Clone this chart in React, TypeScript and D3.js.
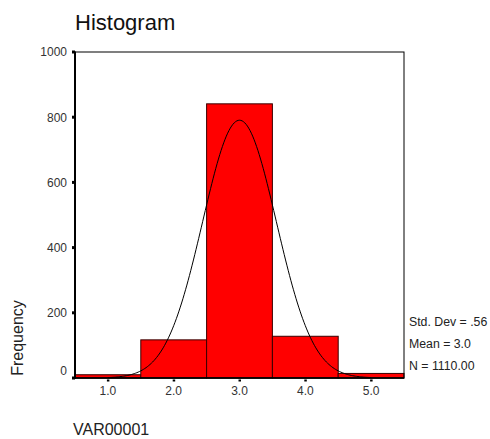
import React from "react";
import * as d3 from "d3";

const binCenters = [1, 2, 3, 4, 5];
const frequencies = [10, 117, 841, 128, 14];
const yTicks = [0, 200, 400, 600, 800, 1000];
const xTickLabels = ["1.0", "2.0", "3.0", "4.0", "5.0"];
const stats = { sd: 0.56, mean: 3.0, n: 1110 };
const statLabels = ["Std. Dev = .56", "Mean = 3.0", "N = 1110.00"];

const W = 490, H = 439;
const left = 75, right = 404, top = 52, bottom = 378;
const font = "'Liberation Sans', Arial, sans-serif";

export default function App() {
  const x = d3.scaleLinear().domain([0.5, 5.5]).range([left, right]);
  const y = d3.scaleLinear().domain([0, 1000]).range([bottom, top]);

  const pdf = (v: number) =>
    (stats.n * 1) / (stats.sd * Math.sqrt(2 * Math.PI)) *
    Math.exp(-0.5 * ((v - stats.mean) / stats.sd) ** 2);
  const curvePts = d3.range(1.0, 5.0001, 0.02).map((v) => [v, pdf(v)] as [number, number]);
  const line = d3.line<[number, number]>().x((d) => x(d[0])).y((d) => y(d[1])).curve(d3.curveMonotoneX);

  return (
    <svg width={W} height={H} style={{ position: "absolute", left: 0, top: 0 }} fontFamily={font}>
      <rect x={0} y={0} width={W} height={H} fill="#fff" />
      <text x={75} y={29.5} fontSize={22} fill="#111">Histogram</text>

      {binCenters.map((c, i) => (
        <rect key={i} x={x(c - 0.5)} y={y(frequencies[i])} width={x(c + 0.5) - x(c - 0.5)}
          height={bottom - y(frequencies[i])} fill="#ff0000" stroke="#3a0000" strokeWidth={1} />
      ))}

      <path d={line(curvePts) || ""} fill="none" stroke="#000" strokeWidth={1} />

      <rect x={left} y={top} width={right - left} height={bottom - top} fill="none" stroke="#000" strokeWidth={1} />
      <line x1={left} x2={left} y1={top - 0.5} y2={bottom + 1} stroke="#000" strokeWidth={2} />
      <line x1={left} x2={right} y1={bottom} y2={bottom} stroke="#000" strokeWidth={1.5} />

      {yTicks.map((t) => (
        <g key={t}>
          <rect x={72} y={y(t) - 1.5} width={3} height={3} fill="#000" />
          <text x={67} y={(t === 0 ? y(t) - 7 : y(t)) + 4.3} fontSize={12} textAnchor="end" fill="#333">{t}</text>
        </g>
      ))}

      {binCenters.map((c, i) => (
        <g key={c}>
          <rect x={x(c) - 1} y={bottom + 1.5} width={2.5} height={2} fill="#000" />
          <text x={x(c)} y={394.5} fontSize={12} textAnchor="middle" fill="#333">{xTickLabels[i]}</text>
        </g>
      ))}

      {statLabels.map((s, i) => (
        <text key={s} x={409} y={326 + i * 22} fontSize={12.3} fill="#222">{s}</text>
      ))}

      <text transform={`translate(22.5,338) rotate(-90)`} fontSize={16} textAnchor="middle" fill="#222">Frequency</text>
      <text x={73} y={435} fontSize={16} fill="#222">VAR00001</text>
    </svg>
  );
}
